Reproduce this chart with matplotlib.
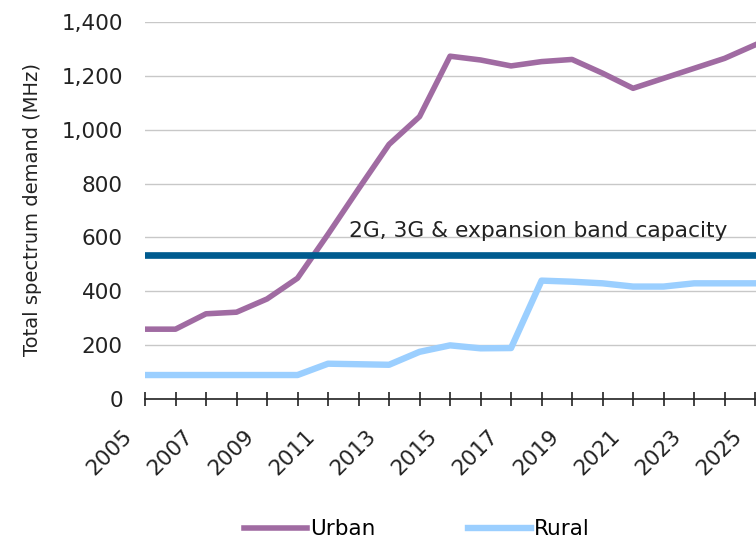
import matplotlib.pyplot as plt
import matplotlib.transforms as mtrans
import numpy as np

plt.rcParams['font.family'] = ['DejaVu Sans']

years = list(range(2005, 2026))
urban = [260, 260, 317, 323, 372, 449, 612, 780, 945, 1048, 1272, 1258,
         1236, 1252, 1260, 1209, 1153, 1190, 1227, 1264, 1314]
rural = [90, 90, 90, 90, 90, 90, 132, 130, 128, 176, 200, 189,
         190, 440, 436, 430, 418, 418, 430, 430, 430]
capacity = 535
cap_label = '2G, 3G & expansion band capacity'
tick_years = list(range(2005, 2026, 2))

fig = plt.figure(figsize=(7.56, 5.38), dpi=100)
ax = fig.add_axes([0.1918, 0.2578, 0.8082, 0.7019])

ax.plot(years, urban, color='#a06ba2', lw=4.0, label='Urban')
ax.plot(years, rural, color='#9bcfff', lw=4.6, label='Rural')
ax.axhline(capacity, color='#005b8f', lw=4.8)
ax.text(2011.69, 600, cap_label, fontsize=15.7, color='#222222', va='baseline')

ax.set_xlim(2005, 2025.03)
ax.set_ylim(0, 1400)
ax.set_yticks(range(0, 1401, 200))
ax.set_yticklabels([f'{v:,}' for v in range(0, 1401, 200)])
ax.yaxis.grid(True, color='#c8c8c8', lw=1)
ax.set_axisbelow(True)

# tick marks every year, labels every two years (drawn as text, shifted left like the original)
ax.set_xticks(years)
ax.set_xticklabels([])
shift = mtrans.ScaledTranslation(-0.16, -0.337, fig.dpi_scale_trans)
for y in tick_years:
    ax.text(y, 0, str(y), transform=ax.get_xaxis_transform() + shift,
            rotation=45, ha='right', va='center', rotation_mode='anchor',
            fontsize=15.5, color='#222222', clip_on=False)

for s in ['top', 'right', 'left']:
    ax.spines[s].set_visible(False)
ax.spines['bottom'].set_color('#222222')
ax.spines['bottom'].set_linewidth(1.2)

ax.tick_params(axis='y', length=0, pad=16, labelsize=15.5, labelcolor='#222222')
ax.tick_params(axis='x', direction='inout', length=9.5, width=1.2, color='#222222')

fig.text(33 / 756, 1 - 209 / 538, 'Total spectrum demand (MHz)', rotation=90,
         fontsize=14, color='#222222', ha='center', va='center')

fig.legend(loc='center', bbox_to_anchor=(0.551, 0.016), ncol=2, frameon=False,
           fontsize=15.5, handlelength=2.95, columnspacing=4.3, handletextpad=0.12,
           borderpad=0)

fig.savefig('out.png', dpi=100)
